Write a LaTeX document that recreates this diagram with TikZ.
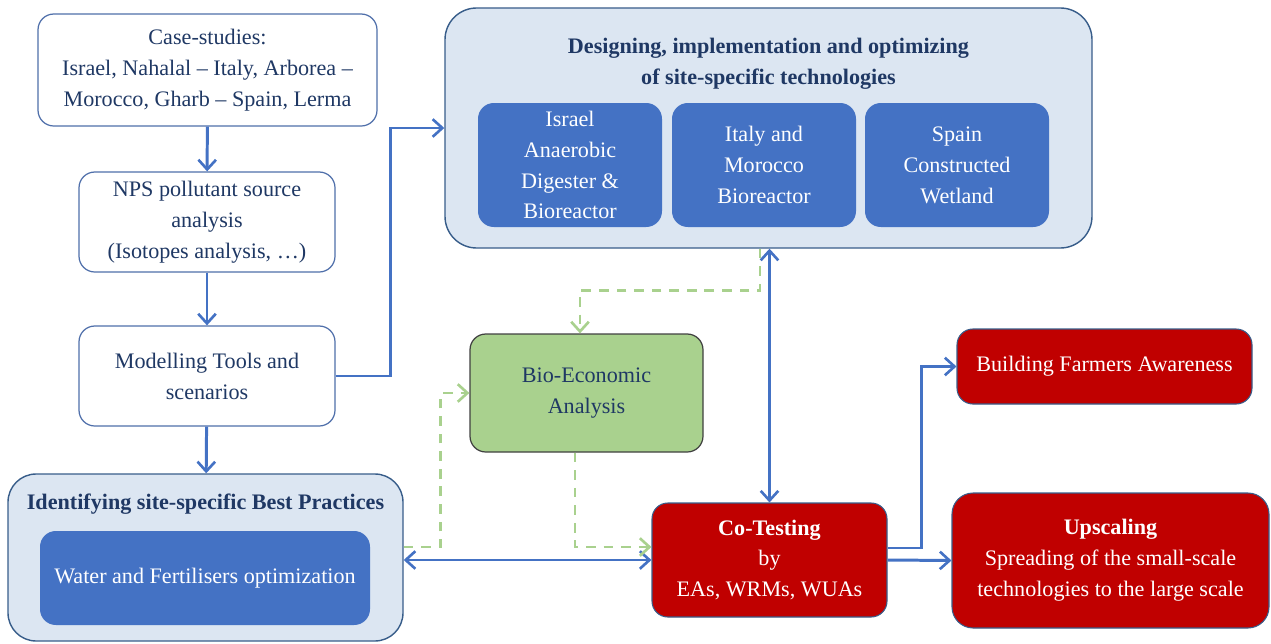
\documentclass[tikz,border=0pt]{standalone}
\usepackage{fontspec}
\setmainfont{Liberation Serif}
\usepackage{tikz}
\usetikzlibrary{arrows.meta,calc}
\definecolor{navy}{RGB}{31,56,100}
\definecolor{boxline}{RGB}{79,111,170}
\definecolor{groupline}{RGB}{56,93,138}
\definecolor{paleblue}{RGB}{220,230,242}
\definecolor{techblue}{RGB}{68,114,196}
\definecolor{deepred}{RGB}{192,0,0}
\definecolor{leaf}{RGB}{169,209,142}
\definecolor{leafline}{RGB}{64,64,64}
\newcommand{\boxfont}{\fontsize{12.6}{17.6}\selectfont}
\tikzset{
  whitebox/.style={draw=boxline,fill=white,line width=0.7pt,rounded corners=9pt,
    text=navy,align=center,font=\boxfont,inner sep=0pt},
  groupbox/.style={draw=groupline,fill=paleblue,line width=0.8pt,rounded corners=16pt,inner sep=0pt},
  techbox/.style={fill=techblue,draw=none,rounded corners=9pt,text=white,
    align=center,font=\boxfont,inner sep=0pt},
  redbox/.style={fill=deepred,draw=groupline,line width=0.6pt,rounded corners=9pt,
    text=white,align=center,font=\boxfont,inner sep=0pt},
  greenbox/.style={fill=leaf,draw=leafline,line width=0.7pt,rounded corners=9pt,
    text=navy,align=center,font=\boxfont,inner sep=0pt},
  flow/.style={draw=techblue,line width=1.7pt},
  link/.style={draw=leaf,line width=1.7pt,dash pattern=on 5.5pt off 4.5pt},
  >={Straight Barb[length=5.5pt,width=10pt,line width=1.5pt]}
}
\begin{document}
\begin{tikzpicture}
\useasboundingbox (0,0) rectangle (25.42,12.86);
%left column
\node[whitebox,minimum width=6.78cm,minimum height=2.24cm] (cases) at (4.15,11.46)
  {Case-studies:\\Israel, Nahalal -- Italy, Arborea --\\Morocco, Gharb -- Spain, Lerma};
\node[whitebox,minimum width=5.12cm,minimum height=2cm] (nps) at (4.14,8.42)
  {NPS pollutant source\\analysis\\(Isotopes analysis, \ldots)};
\node[whitebox,minimum width=5.12cm,minimum height=2cm] (model) at (4.14,5.34)
  {Modelling Tools and\\scenarios};
\node[groupbox,minimum width=7.9cm,minimum height=3.34cm] (ident) at (4.11,1.71) {};
\node[text=navy,font=\boxfont\bfseries] (identtitle) at (4.11,2.78)
  {Identifying site-specific Best Practices};
\node[techbox,minimum width=6.6cm,minimum height=1.88cm] (water) at (4.10,1.30)
  {Water and Fertilisers optimization};
%technologies
\node[groupbox,rounded corners=18pt,minimum width=12.94cm,minimum height=4.8cm] (design) at (15.37,10.30) {};
\node[text=navy,font=\boxfont\bfseries,align=center] (designtitle) at (15.37,11.58)
  {Designing, implementation and optimizing\\of site-specific technologies};
\node[techbox,minimum width=3.68cm,minimum height=2.48cm] (israel) at (11.40,9.56)
  {Israel\\Anaerobic\\Digester \&\\Bioreactor};
\node[techbox,minimum width=3.68cm,minimum height=2.48cm] (italy) at (15.28,9.56)
  {Italy and\\Morocco\\Bioreactor};
\node[techbox,minimum width=3.68cm,minimum height=2.48cm] (spain) at (19.14,9.56)
  {Spain\\Constructed\\Wetland};
%middle and right
\node[greenbox,minimum width=4.66cm,minimum height=2.36cm] (bio) at (11.73,5.00)
  {Bio-Economic\\Analysis};
\node[redbox,minimum width=4.7cm,minimum height=2.28cm] (cotest) at (15.39,1.66)
  {\textbf{Co-Testing}\\by\\EAs, WRMs, WUAs};
\node[redbox,minimum width=5.9cm,minimum height=1.5cm] (farmers) at (22.09,5.53)
  {Building Farmers Awareness};
\node[redbox,rounded corners=12pt,minimum width=6.34cm,minimum height=2.7cm] (upscale) at (22.21,1.65)
  {\textbf{Upscaling}\\Spreading of the small-scale\\technologies to the large scale};
%blue flow
\draw[flow,->] (cases) -- (nps);
\draw[flow,->] (nps) -- (model);
\draw[flow,->] (model) -- (ident);
\draw[flow,->] (model.east) -- ++(1.1,0) |- (design.west);
\draw[flow,<->] (cotest.north) -- (cotest.north |- design.south);
\draw[flow,<->] (cotest.west) -- (cotest.west -| ident.east);
\draw[flow,->] ([yshift=0.24cm]cotest.east) -- ++(0.68,0) |- (farmers.west);
\draw[flow,->] (cotest.east) -- (upscale.west);
%green links
\draw[link,->] ([xshift=-0.17cm]design.south) -- ++(0,-0.84) -| ([xshift=-0.13cm]bio.north);
\draw[link,->] ([yshift=0.21cm]ident.east) -- ++(0.74,0) |- (bio.west);
\draw[link,->] ([xshift=-0.23cm]bio.south) |- ([yshift=0.26cm]cotest.west);
\end{tikzpicture}
\end{document}
